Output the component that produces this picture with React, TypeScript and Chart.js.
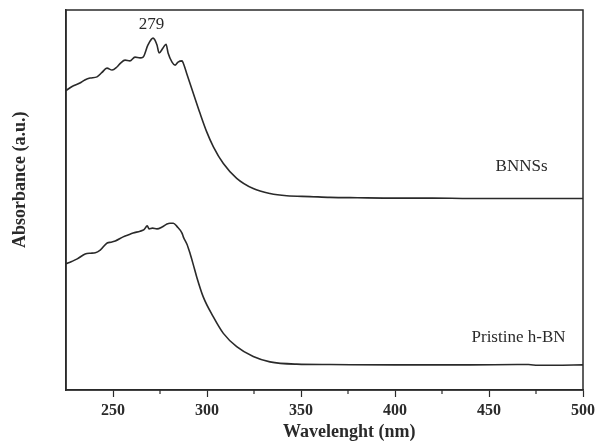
import React, { useEffect, useRef } from "react";
import { Chart, registerables } from "chart.js";

Chart.register(...registerables);

// Wavelength (nm) and absorbance (a.u.)
const bnnsWavelength = [
  225, 228, 232.4, 235, 237.8, 241.5, 244, 246.8, 249.5, 252.1, 254, 256.4, 259.0, 261.7, 264.4, 266,
  268.6, 271.3, 273.4, 274.5, 276.6, 278.2, 279.3, 281.4, 283, 284.6, 286.7, 287.4, 289.2, 292.7,
  296.3, 299.8, 303.4, 308.7, 315.8, 324.6, 333.5, 342.4, 354.8, 365.4, 380, 400, 420, 440, 460, 480, 500,
];
const bnnsAbsorbance = [
  78.8, 79.8, 80.8, 81.6, 82.1, 82.4, 83.5, 84.7, 84.2, 85.0, 86.0, 86.8, 86.6, 87.6, 87.4, 87.6,
  90.8, 92.6, 90.8, 88.7, 90.0, 91.0, 88.7, 86.3, 85.5, 86.3, 86.6, 86.0, 83.3, 78.1,
  72.8, 68.0, 64.0, 59.6, 55.7, 53.0, 51.7, 51.1, 50.9, 50.7, 50.6, 50.5, 50.5, 50.4, 50.4, 50.4, 50.4,
];

const pristineWavelength = [
  225, 228, 231, 235.2, 238, 240.6, 243.2, 246.9, 249, 251.2, 255.4, 258, 260.7, 264.4, 266.5, 268.2,
  269.2, 271, 273.4, 276.1, 278.7, 280.3, 282.1, 284.1, 286.7, 287.4, 289.4, 291, 292.7, 294.5, 298,
  303.3, 308.7, 315.8, 324.6, 333.5, 347.7, 365.4, 400, 440, 465, 471, 476, 485, 500,
];
const pristineAbsorbance = [
  33.2, 33.8, 34.5, 35.8, 36.0, 36.1, 36.8, 38.7, 38.9, 39.2, 40.3, 40.8, 41.3, 41.8, 42.2, 43.2,
  42.4, 42.6, 42.4, 42.9, 43.7, 43.9, 43.9, 43.0, 41.3, 40.3, 38.3, 35.9, 33.0, 29.8, 24.5,
  19.3, 14.9, 11.4, 8.8, 7.4, 6.8, 6.7, 6.6, 6.6, 6.7, 6.7, 6.5, 6.5, 6.6,
];

const majorTicks = [250, 300, 350, 400, 450, 500];
const minorTicks = [275, 325, 375, 425, 475];

const annotationTexts = ["279", "BNNSs", "Pristine h-BN"];
const annotationX = [270.5, 467.3, 465.7];
const annotationY = [96.3, 58.8, 13.7];

const FONT = "'Liberation Serif', 'Times New Roman', serif";
const INK = "#2a2a2a";

export default function App() {
  const ref = useRef<HTMLCanvasElement | null>(null);

  useEffect(() => {
    if (!ref.current) return;

    const framePlugin = {
      id: "frameAndExtras",
      afterDraw(chart: any) {
        const { ctx, chartArea } = chart;
        const xs = chart.scales.x;
        const ys = chart.scales.y;
        ctx.save();
        ctx.strokeStyle = INK;
        ctx.lineWidth = 1.5;
        ctx.strokeRect(chartArea.left, chartArea.top, chartArea.right - chartArea.left, chartArea.bottom - chartArea.top);
        // minor ticks
        ctx.lineWidth = 1.2;
        minorTicks.forEach((v) => {
          const px = xs.getPixelForValue(v);
          ctx.beginPath();
          ctx.moveTo(px, chartArea.bottom);
          ctx.lineTo(px, chartArea.bottom + 4);
          ctx.stroke();
        });
        // text annotations
        ctx.fillStyle = INK;
        ctx.font = `17px ${FONT}`;
        ctx.textAlign = "center";
        ctx.textBaseline = "middle";
        annotationTexts.forEach((t, i) => {
          ctx.fillText(t, xs.getPixelForValue(annotationX[i]), ys.getPixelForValue(annotationY[i]));
        });
        ctx.restore();
      },
    };

    const chart = new Chart(ref.current, {
      type: "line",
      data: {
        datasets: [
          {
            label: "BNNSs",
            data: bnnsWavelength.map((x, i) => ({ x, y: bnnsAbsorbance[i] })),
            borderColor: INK,
            borderWidth: 1.6,
            pointRadius: 0,
            cubicInterpolationMode: "monotone",
            fill: false,
          },
          {
            label: "Pristine h-BN",
            data: pristineWavelength.map((x, i) => ({ x, y: pristineAbsorbance[i] })),
            borderColor: INK,
            borderWidth: 1.6,
            pointRadius: 0,
            cubicInterpolationMode: "monotone",
            fill: false,
          },
        ],
      },
      options: {
        animation: false,
        responsive: false,
        maintainAspectRatio: false,
        layout: { padding: { top: 10, right: 0, left: 0, bottom: 0 } },
        plugins: { legend: { display: false }, tooltip: { enabled: false } },
        scales: {
          x: {
            type: "linear",
            min: 225,
            max: 500,
            afterBuildTicks: (scale: any) => {
              scale.ticks = majorTicks.map((v) => ({ value: v }));
            },
            afterFit: (scale: any) => {
              scale.height = 53;
              scale.paddingRight = 12;
              scale.paddingLeft = 0;
            },
            border: { display: true, color: INK, width: 1.5 },
            grid: { display: true, drawOnChartArea: false, drawTicks: true, tickLength: 7, tickColor: INK, tickWidth: 1.2 },
            ticks: {
              color: INK,
              padding: 4,
              maxRotation: 0,
              font: { family: FONT, size: 16, weight: "bold" },
            },
            title: {
              display: true,
              text: "           Wavelenght (nm)",
              color: INK,
              padding: { top: 0, bottom: 0 },
              font: { family: FONT, size: 18, weight: "bold" },
            },
          },
          y: {
            type: "linear",
            min: 0,
            max: 100,
            afterFit: (scale: any) => {
              scale.width = 66;
            },
            border: { display: true, color: INK, width: 1.5 },
            grid: { display: false },
            ticks: { display: false },
            title: {
              display: true,
              text: "         Absorbance (a.u.)",
              color: INK,
              padding: { top: 10, bottom: 0 },
              font: { family: FONT, size: 18, weight: "bold" },
            },
          },
        },
      },
      plugins: [framePlugin],
    } as any);

    return () => chart.destroy();
  }, []);

  return (
    <div style={{ position: "absolute", left: 0, top: 0, width: 595, height: 443, background: "#fff" }}>
      <canvas ref={ref} width={595} height={443} style={{ width: 595, height: 443 }} />
    </div>
  );
}
